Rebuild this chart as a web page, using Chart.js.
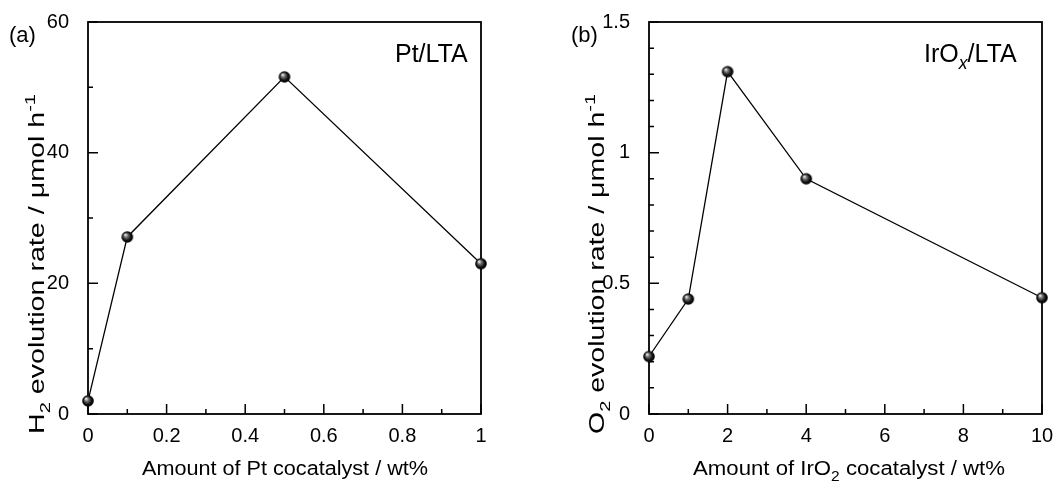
<!DOCTYPE html>
<html><head><meta charset="utf-8">
<script src="https://cdn.jsdelivr.net/npm/chart.js@4"></script>
<style>
html,body{margin:0;padding:0;background:#fff;}
#wrap{position:relative;width:1053px;height:481px;overflow:hidden;}
canvas{position:absolute;top:0;}
</style></head><body>
<div id="wrap">
<canvas id="ca" width="527" height="481" style="left:0"></canvas>
<canvas id="cb" width="526" height="481" style="left:527px"></canvas>
</div>
<script>
// ---- data ----
const ptLoading = [0, 0.1, 0.5, 1];
const h2Rate = [2.0, 27.1, 51.6, 23.0];
const irLoading = [0, 1, 2, 4, 10];
const o2Rate = [0.22, 0.44, 1.31, 0.90, 0.445];

const xTickLabelsA = ['0', '0.2', '0.4', '0.6', '0.8', '1'];
const yTickLabelsA = ['0', '20', '40', '60'];
const xTickLabelsB = ['0', '2', '4', '6', '8', '10'];
const yTickLabelsB = ['0', '0.5', '1', '1.5'];

const panelA = '(a)';
const panelB = '(b)';
const sampleA = [['Pt/LTA', '']];
const sampleB = [['IrO', ''], ['x', 'subi'], ['/LTA', '']];
const xTitleA = [['Amount of Pt cocatalyst / wt%', '']];
const xTitleB = [['Amount of IrO', ''], ['2', 'sub'], [' cocatalyst / wt%', '']];
const yTitleA = [['H', ''], ['2', 'sub'], [' evolution rate / \u03bcmol h', ''], ['-1', 'sup']];
const yTitleB = [['O', ''], ['2', 'sub'], [' evolution rate / \u03bcmol h', ''], ['-1', 'sup']];

const FONT = '"Liberation Sans", Arial, sans-serif';

// sphere marker
function makeSphere(r) {
  const c = document.createElement('canvas');
  const s = Math.ceil(r * 2) + 2;
  c.width = s; c.height = s;
  const g = c.getContext('2d');
  const cx = s / 2, cy = s / 2;
  const grad = g.createRadialGradient(cx - r * 0.35, cy - r * 0.4, r * 0.05, cx, cy, r);
  grad.addColorStop(0, '#f4f4f4');
  grad.addColorStop(0.3, '#777');
  grad.addColorStop(0.7, '#111');
  grad.addColorStop(1, '#000');
  g.fillStyle = grad;
  g.beginPath(); g.arc(cx, cy, r, 0, Math.PI * 2); g.fill();
  return c;
}
const sphere = makeSphere(5.8);

function fmt(v) { return String(Math.round(v * 1000) / 1000); }

function richWidth(ctx, segs, size) {
  let w = 0;
  for (const [t, k] of segs) {
    const fs = k ? size * 0.7 : size;
    ctx.font = (k === 'subi' ? 'italic ' : '') + fs + 'px ' + FONT;
    w += ctx.measureText(t).width;
  }
  return w;
}
function drawRich(ctx, segs, x, y, size, align, rot, targetLen) {
  ctx.save();
  ctx.translate(x, y);
  if (rot) ctx.rotate(rot);
  ctx.textBaseline = 'alphabetic';
  ctx.textAlign = 'left';
  ctx.fillStyle = '#000';
  const w = richWidth(ctx, segs, size);
  if (targetLen) ctx.scale(targetLen / w, 1);
  let cx = align === 'center' ? -w / 2 : 0;
  for (const [t, k] of segs) {
    const fs = k ? size * 0.7 : size;
    ctx.font = (k === 'subi' ? 'italic ' : '') + fs + 'px ' + FONT;
    let dy = 0;
    if (k === 'sub' || k === 'subi') dy = size * 0.28;
    if (k === 'sup') dy = -size * 0.42;
    ctx.fillText(t, cx, dy);
    cx += ctx.measureText(t).width;
  }
  ctx.restore();
}

function framePlugin(cfg) {
  return {
    id: 'frame' + cfg.id,
    beforeDatasetsDraw(chart) {
      const ctx = chart.ctx;
      const a = chart.chartArea;
      const xs = chart.scales.x, ys = chart.scales.y;
      ctx.save();
      ctx.strokeStyle = '#000';
      ctx.lineWidth = 1.8;
      ctx.strokeRect(a.left, a.top, a.right - a.left, a.bottom - a.top);
      ctx.beginPath();
      ctx.lineWidth = 1.5;
      for (const t of xs.ticks) {
        const px = xs.getPixelForValue(t.value);
        const len = t.label !== '' ? 10 : 5;
        ctx.moveTo(px, a.bottom); ctx.lineTo(px, a.bottom - len);
      }
      for (const t of ys.ticks) {
        const py = ys.getPixelForValue(t.value);
        const len = t.label !== '' ? 10 : 5;
        ctx.moveTo(a.left, py); ctx.lineTo(a.left + len, py);
      }
      ctx.stroke();
      ctx.restore();
    },
    afterDraw(chart) {
      const ctx = chart.ctx;
      ctx.save();
      ctx.fillStyle = '#000';
      ctx.font = '22px ' + FONT;
      ctx.textBaseline = 'alphabetic';
      ctx.textAlign = 'left';
      ctx.fillText(cfg.panel, cfg.panelX, 42);
      ctx.restore();
      drawRich(ctx, cfg.sample, cfg.sampleX, 62, 25, 'left', 0);
      drawRich(ctx, cfg.xTitle, cfg.xTitleX, 475, 20, 'center', 0, cfg.xTitleLen);
      drawRich(ctx, cfg.yTitle, cfg.yTitleX, 264, 22, 'center', -Math.PI / 2, 340);
    }
  };
}

function makeChart(id, xs, ys, xMin, xMax, xStep, xLabels, yMin, yMax, yStep, yLabels, yWidth, padRight, cfg) {
  return new Chart(document.getElementById(id), {
    type: 'line',
    data: {
      datasets: [{
        data: xs.map((x, i) => ({ x: x, y: ys[i] })),
        borderColor: '#000',
        borderWidth: 1.3,
        pointStyle: sphere,
        pointRadius: 6,
        pointHoverRadius: 6,
        tension: 0,
        fill: false,
        clip: false
      }]
    },
    options: {
      responsive: false,
      animation: false,
      events: [],
      layout: { padding: { left: 0, top: 22, right: padRight, bottom: 0 } },
      plugins: { legend: { display: false }, tooltip: { enabled: false }, title: { display: false } },
      scales: {
        x: {
          type: 'linear', min: xMin, max: xMax,
          grid: { display: false }, border: { display: false },
          ticks: {
            stepSize: xStep, autoSkip: false, maxRotation: 0, padding: 2,
            color: '#000', font: { family: FONT, size: 20 },
            callback: (v) => xLabels.includes(fmt(v)) ? fmt(v) : ''
          },
          afterFit(s) { s.height = 67; s.paddingLeft = 0; s.paddingRight = 0; }
        },
        y: {
          type: 'linear', min: yMin, max: yMax,
          grid: { display: false }, border: { display: false },
          ticks: {
            stepSize: yStep, autoSkip: false, padding: 11,
            color: '#000', font: { family: FONT, size: 20 },
            callback: (v) => yLabels.includes(fmt(v)) ? fmt(v) : ''
          },
          afterFit(s) { s.width = yWidth; s.paddingTop = 0; s.paddingBottom = 0; }
        }
      }
    },
    plugins: [framePlugin(cfg)]
  });
}

makeChart('ca', ptLoading, h2Rate, 0, 1, 0.1, xTickLabelsA, 0, 60, 10, yTickLabelsA, 88, 46,
  { id: 'a', panel: panelA, panelX: 9, sample: sampleA, sampleX: 395, xTitle: xTitleA, xTitleX: 285, xTitleLen: 286, yTitle: yTitleA, yTitleX: 44 });
makeChart('cb', irLoading, o2Rate, 0, 10, 1, xTickLabelsB, 0, 1.5, 0.1, yTickLabelsB, 122, 11,
  { id: 'b', panel: panelB, panelX: 44, sample: sampleB, sampleX: 397, xTitle: xTitleB, xTitleX: 322, xTitleLen: 312, yTitle: yTitleB, yTitleX: 77 });
</script>
</body></html>
